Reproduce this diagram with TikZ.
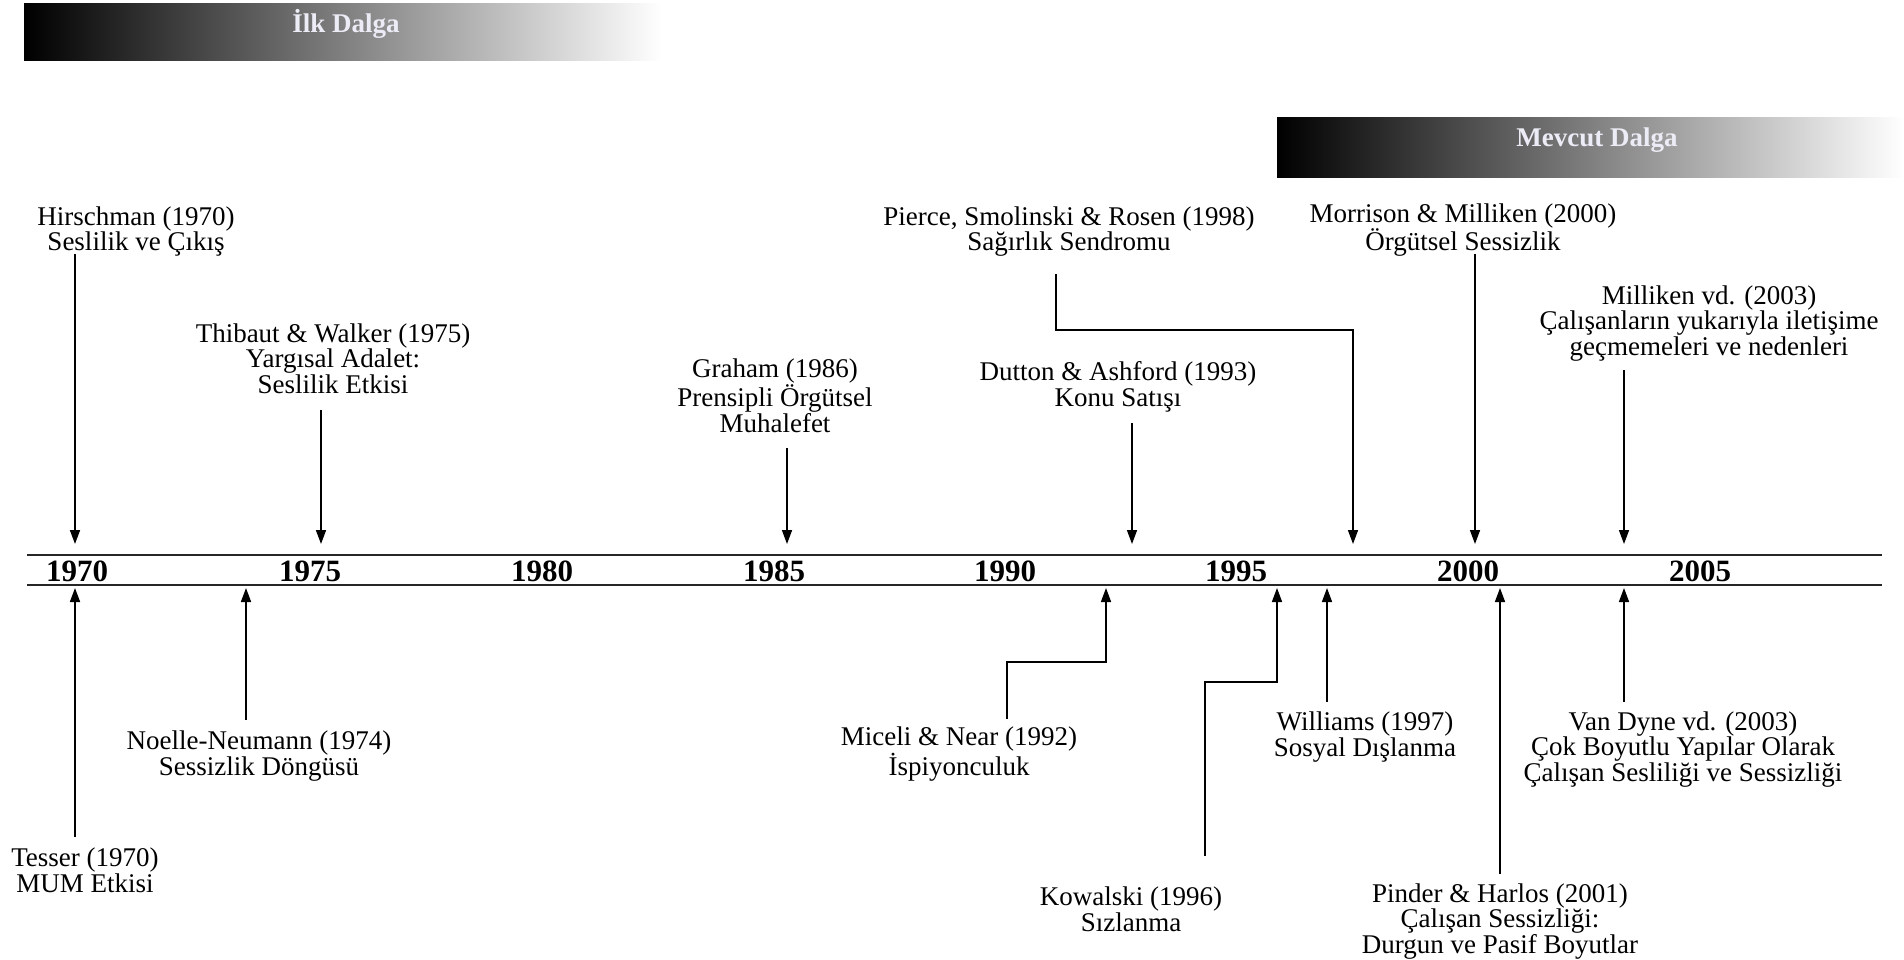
\documentclass[tikz,border=0pt]{standalone}
\usepackage{fontspec}
\setmainfont{Liberation Serif}
\usetikzlibrary{arrows.meta}
\definecolor{barText}{RGB}{236,236,246}
\begin{document}
\begin{tikzpicture}[x=1pt,y=-1pt,
  lbl/.style={align=center,font=\fontsize{27}{25.5}\selectfont,inner sep=0pt,anchor=base},
  yr/.style={font=\fontsize{31}{31}\selectfont\bfseries,inner sep=0pt},
  bartxt/.style={font=\fontsize{27}{27}\selectfont\bfseries,text=barText,inner sep=0pt},
  arr/.style={line width=1.6pt,-{Triangle[width=10pt,length=14pt]}},
  axis/.style={line width=2.4pt,draw=black!85}]
\useasboundingbox (0,0) rectangle (1904,960);
% wave bars
\shade[left color=black,right color=white] (24,4) rectangle (662,61);
\node[bartxt] (ilk) at (346,24) {İlk Dalga};
\shade[left color=black,right color=white] (1277,118) rectangle (1904,178);
\node[bartxt] (mev) at (1597,140) {Mevcut Dalga};
% axis
\coordinate (axL1) at (27,555); \coordinate (axR1) at (1882,555);
\coordinate (axL2) at (27,585); \coordinate (axR2) at (1882,585);
\draw[axis] (axL1) -- (axR1);
\draw[axis] (axL2) -- (axR2);
\node[yr] (y1970) at (77,571) {1970};
\node[yr] (y1975) at (310,571) {1975};
\node[yr] (y1980) at (542,571) {1980};
\node[yr] (y1985) at (774,571) {1985};
\node[yr] (y1990) at (1005,571) {1990};
\node[yr] (y1995) at (1236,571) {1995};
\node[yr] (y2000) at (1468,571) {2000};
\node[yr] (y2005) at (1700,571) {2005};
% top labels (anchor = baseline of last line)
\node[lbl] (hir) at (136,251) {Hirschman (1970)\\Seslilik ve Çıkış};
\node[lbl] (thi) at (333,393) {Thibaut \& Walker (1975)\\Yargısal Adalet:\\Seslilik Etkisi};
\node[lbl] (gra) at (775,432) {Graham (1986)\\Prensipli Örgütsel\\Muhalefet};
\node[lbl] (dut) at (1118,406) {Dutton \& Ashford (1993)\\Konu Satışı};
\node[lbl] (pie) at (1069,251) {Pierce, Smolinski \& Rosen (1998)\\Sağırlık Sendromu};
\node[lbl] (mor) at (1463,251) {Morrison \& Milliken (2000)\\Örgütsel Sessizlik};
\node[lbl] (mil) at (1709,355) {Milliken vd. (2003)\\Çalışanların yukarıyla iletişime\\geçmemeleri ve nedenleri};
% bottom labels
\node[lbl] (tes) at (85,892) {Tesser (1970)\\MUM Etkisi};
\node[lbl] (noe) at (259,775) {Noelle-Neumann (1974)\\Sessizlik Döngüsü};
\node[lbl] (mic) at (959,775) {Miceli \& Near (1992)\\İspiyonculuk};
\node[lbl] (kow) at (1131,931) {Kowalski (1996)\\Sızlanma};
\node[lbl] (wil) at (1365,756) {Williams (1997)\\Sosyal Dışlanma};
\node[lbl] (pin) at (1500,953) {Pinder \& Harlos (2001)\\Çalışan Sessizliği:\\Durgun ve Pasif Boyutlar};
\node[lbl] (van) at (1683,781) {Van Dyne vd. (2003)\\Çok Boyutlu Yapılar Olarak\\Çalışan Sesliliği ve Sessizliği};
% connector start points and tips (at axis)
\coordinate (hirS) at (75,254);   \coordinate (hirT) at (75,544);
\coordinate (thiS) at (321,410);  \coordinate (thiT) at (321,544);
\coordinate (graS) at (787,448);  \coordinate (graT) at (787,544);
\coordinate (dutS) at (1132,423); \coordinate (dutT) at (1132,544);
\coordinate (pieS) at (1056,274); \coordinate (pieT) at (1353,544);
\coordinate (morS) at (1475,254); \coordinate (morT) at (1475,544);
\coordinate (milS) at (1624,370); \coordinate (milT) at (1624,544);
\coordinate (tesS) at (75,837);   \coordinate (tesT) at (75,588);
\coordinate (noeS) at (246,720);  \coordinate (noeT) at (246,588);
\coordinate (micS) at (1007,719); \coordinate (micT) at (1106,588);
\coordinate (kowS) at (1205,856); \coordinate (kowT) at (1277,588);
\coordinate (wilS) at (1327,702); \coordinate (wilT) at (1327,588);
\coordinate (pinS) at (1500,874); \coordinate (pinT) at (1500,588);
\coordinate (vanS) at (1624,702); \coordinate (vanT) at (1624,588);
% connectors
\draw[arr] (hirS) -- (hirT);
\draw[arr] (thiS) -- (thiT);
\draw[arr] (graS) -- (graT);
\draw[arr] (dutS) -- (dutT);
\draw[arr] (pieS) |- (1200,330) -| (pieT);
\draw[arr] (morS) -- (morT);
\draw[arr] (milS) -- (milT);
\draw[arr] (tesS) -- (tesT);
\draw[arr] (noeS) -- (noeT);
\draw[arr] (micS) |- (1050,662) -| (micT);
\draw[arr] (kowS) |- (1240,682) -| (kowT);
\draw[arr] (wilS) -- (wilT);
\draw[arr] (pinS) -- (pinT);
\draw[arr] (vanS) -- (vanT);
\end{tikzpicture}
\end{document}
